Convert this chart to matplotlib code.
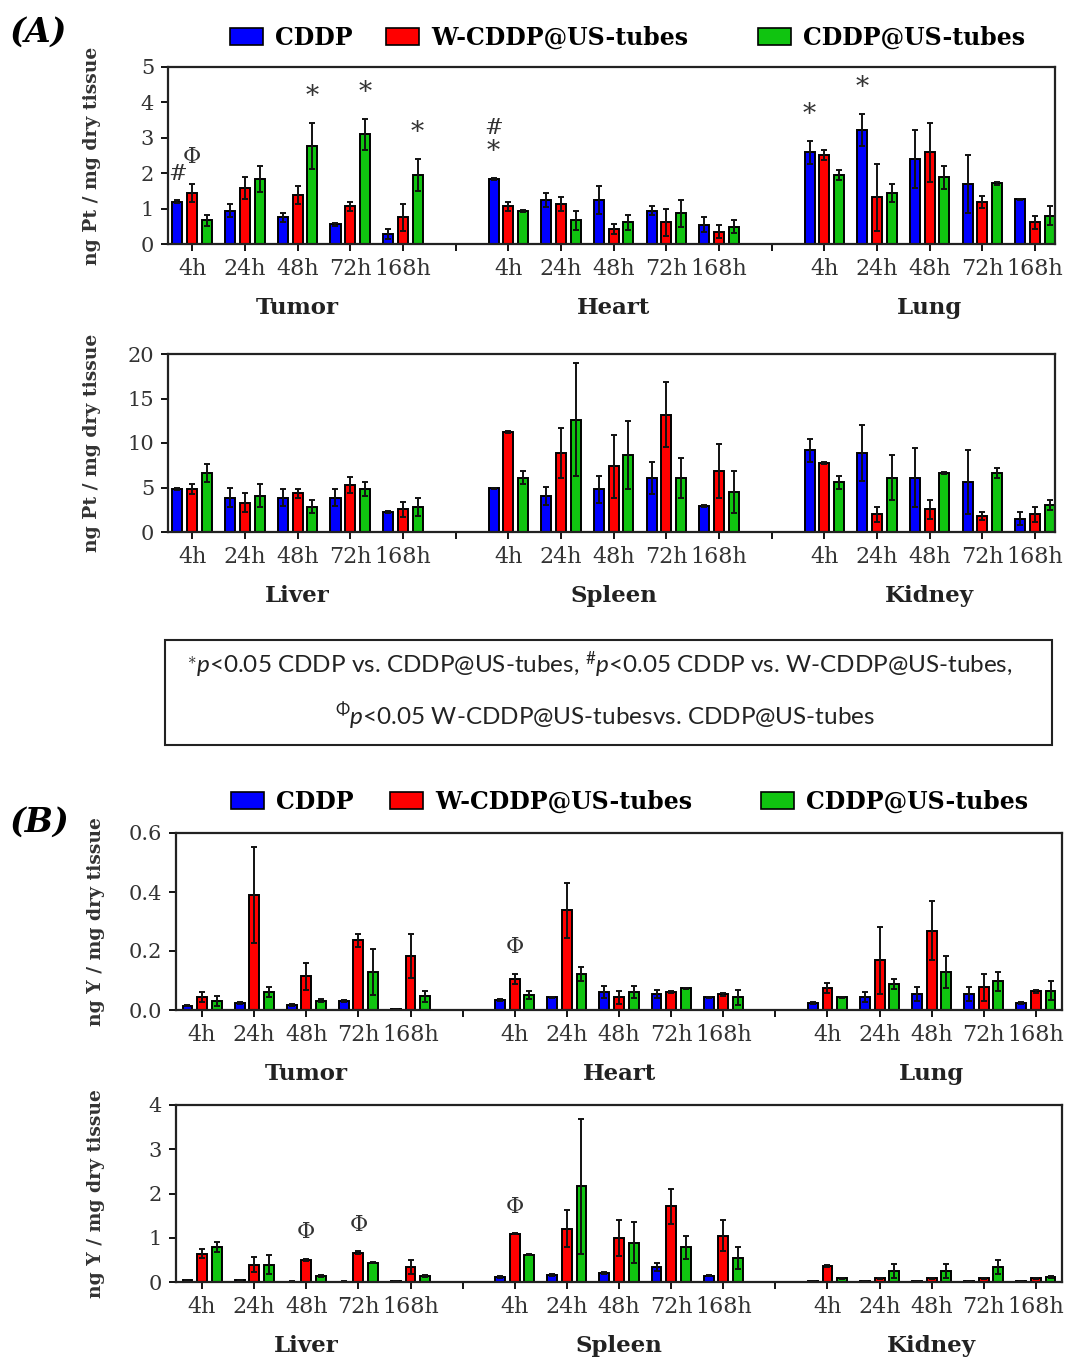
import numpy as np
import matplotlib.pyplot as plt
from matplotlib.patches import Patch, Rectangle

plt.rcParams['mathtext.fontset'] = 'custom'
plt.rcParams['mathtext.rm'] = 'Lato'
plt.rcParams['mathtext.it'] = 'Lato:italic'

# Labels
times = ["4h", "24h", "48h", "72h", "168h"]
series = ["CDDP", "W-CDDP@US-tubes", "CDDP@US-tubes"]
organs_top = ["Tumor", "Heart", "Lung"]
organs_bot = ["Liver", "Spleen", "Kidney"]
colors = ["#0000ff", "#ff0000", "#10c410"]

# (A) Pt, tumor / heart / lung, 5 time points each
a1_cddp = [1.20, 0.94, 0.75, 0.56, 0.28, 1.84, 1.24, 1.24, 0.94, 0.55, 2.59, 3.23, 2.40, 1.70, 1.26]
a1_cddp_err = [0.03, 0.19, 0.12, 0.04, 0.15, 0.03, 0.20, 0.39, 0.12, 0.20, 0.33, 0.45, 0.83, 0.82, 0.02]
a1_w = [1.44, 1.57, 1.38, 1.06, 0.75, 1.06, 1.12, 0.42, 0.61, 0.35, 2.52, 1.32, 2.59, 1.19, 0.61]
a1_w_err = [0.26, 0.31, 0.25, 0.13, 0.38, 0.13, 0.20, 0.14, 0.39, 0.19, 0.14, 0.94, 0.84, 0.17, 0.19]
a1_us = [0.67, 1.84, 2.78, 3.10, 1.95, 0.92, 0.67, 0.61, 0.87, 0.49, 1.95, 1.44, 1.88, 1.71, 0.80]
a1_us_err = [0.15, 0.37, 0.65, 0.44, 0.46, 0.03, 0.27, 0.21, 0.38, 0.19, 0.14, 0.26, 0.33, 0.03, 0.26]

# (A) Pt, liver / spleen / kidney
a2_cddp = [4.79, 3.85, 3.85, 3.85, 2.26, 4.90, 4.08, 4.79, 6.11, 2.94, 9.17, 8.87, 6.11, 5.58, 1.51]
a2_cddp_err = [0.10, 1.05, 0.98, 0.98, 0.10, 0.10, 1.00, 1.55, 1.81, 0.10, 1.28, 3.10, 3.28, 3.58, 0.75]
a2_w = [4.79, 3.28, 4.34, 5.28, 2.53, 11.25, 8.87, 7.36, 13.20, 6.87, 7.74, 2.00, 2.53, 1.81, 2.00]
a2_w_err = [0.57, 1.06, 0.49, 0.87, 0.79, 0.15, 2.83, 3.58, 3.60, 3.00, 0.10, 0.83, 1.05, 0.45, 0.83]
a2_us = [6.60, 4.08, 2.83, 4.79, 2.83, 6.11, 12.64, 8.64, 6.11, 4.53, 5.58, 6.11, 6.60, 6.60, 3.02]
a2_us_err = [1.00, 1.28, 0.75, 0.79, 1.02, 0.76, 6.40, 3.81, 2.26, 2.34, 0.76, 2.53, 0.10, 0.57, 0.56]

# (B) Y, tumor / heart / lung
b1_cddp = [0.014, 0.023, 0.018, 0.031, 0.003, 0.034, 0.043, 0.061, 0.054, 0.043, 0.023, 0.043, 0.054, 0.054, 0.023]
b1_cddp_err = [0.002, 0.003, 0.003, 0.003, 0.001, 0.004, 0.001, 0.022, 0.015, 0.002, 0.003, 0.017, 0.023, 0.023, 0.003]
b1_w = [0.043, 0.391, 0.114, 0.237, 0.183, 0.105, 0.338, 0.043, 0.061, 0.054, 0.074, 0.168, 0.269, 0.077, 0.063]
b1_w_err = [0.017, 0.163, 0.046, 0.022, 0.076, 0.017, 0.093, 0.023, 0.005, 0.005, 0.017, 0.115, 0.100, 0.045, 0.005]
b1_us = [0.029, 0.061, 0.031, 0.129, 0.046, 0.051, 0.122, 0.061, 0.074, 0.043, 0.043, 0.089, 0.129, 0.097, 0.066]
b1_us_err = [0.017, 0.016, 0.005, 0.079, 0.020, 0.015, 0.023, 0.022, 0.002, 0.025, 0.002, 0.017, 0.054, 0.032, 0.033]

# (B) Y, liver / spleen / kidney
b2_cddp = [0.04, 0.04, 0.01, 0.01, 0.02, 0.11, 0.15, 0.20, 0.34, 0.14, 0.02, 0.02, 0.02, 0.02, 0.02]
b2_cddp_err = [0.005, 0.005, 0.002, 0.002, 0.003, 0.02, 0.02, 0.02, 0.10, 0.01, 0.003, 0.003, 0.003, 0.003, 0.003]
b2_w = [0.64, 0.39, 0.50, 0.66, 0.34, 1.09, 1.20, 1.00, 1.71, 1.05, 0.36, 0.08, 0.08, 0.08, 0.08]
b2_w_err = [0.10, 0.17, 0.03, 0.03, 0.15, 0.01, 0.42, 0.41, 0.40, 0.36, 0.03, 0.01, 0.01, 0.01, 0.01]
b2_us = [0.79, 0.39, 0.14, 0.44, 0.14, 0.62, 2.16, 0.89, 0.79, 0.54, 0.08, 0.24, 0.24, 0.34, 0.11]
b2_us_err = [0.11, 0.21, 0.02, 0.02, 0.02, 0.02, 1.52, 0.46, 0.26, 0.25, 0.01, 0.16, 0.16, 0.15, 0.02]

# significance marks: (organ, time, series, symbol, stack level)
a1_marks = [(0, 0, 0, "#", 0), (0, 0, 1, "Φ", 0), (0, 2, 2, "*", 0), (0, 3, 2, "*", 0),
            (0, 4, 2, "*", 0), (1, 0, 0, "*", 0), (1, 0, 0, "#", 1), (2, 0, 0, "*", 0),
            (2, 1, 0, "*", 0)]
b1_marks = [(1, 0, 1, "Φ", 0)]
b2_marks = [(0, 2, 1, "Φ", 0), (0, 3, 1, "Φ", 0), (1, 0, 1, "Φ", 0)]

W, H = 1071, 1357
fig = plt.figure(figsize=(W / 100, H / 100), dpi=100)

serif = "DejaVu Serif"


def px_axes(left, right, top, bottom):
    return fig.add_axes([left / W, 1 - bottom / H, (right - left) / W, (bottom - top) / H])


def draw_panel(ax, vals, errs, organs, ymax, yticks, ytl, ylabel, marks, xlim, labx):
    x = np.array([g * 6 + t for g in range(3) for t in range(5)], dtype=float)
    for k in range(3):
        ax.bar(x + (k - 1) * 0.28, vals[k], 0.19, color=colors[k], edgecolor="black",
               linewidth=1.4, yerr=errs[k], zorder=2,
               error_kw=dict(ecolor="#111111", elinewidth=1.4, capsize=2.5, capthick=1.4))
    for g, t, k, sym, lev in marks:
        i = g * 5 + t
        y = vals[k][i] + errs[k][i] + 0.15 * ymax + lev * 0.13 * ymax
        fs = 19 if sym == "*" else 16
        ax.text(g * 6 + t + (k - 1) * 0.28, y, sym, ha="center", va="center",
                fontsize=fs, family=serif, color="#333333")
    ax.set_xlim(*xlim)
    ax.set_ylim(0, ymax)
    ax.set_xticks(range(17))
    ax.set_xticklabels((times + [""]) * 2 + times)
    ax.set_yticks(yticks)
    ax.set_yticklabels(ytl)
    ax.tick_params(direction="out", length=5, width=1.3, pad=5)
    ax.tick_params(axis="x", labelsize=16)
    ax.tick_params(axis="y", labelsize=15)
    for lab in ax.get_xticklabels() + ax.get_yticklabels():
        lab.set_family(serif)
        lab.set_color("#333333")
    for s in ax.spines.values():
        s.set_linewidth(1.6)
        s.set_color("#222222")
    for g, name in enumerate(organs):
        ax.text(g * 6 + 2, -0.36, name, transform=ax.get_xaxis_transform(),
                ha="center", va="center", fontsize=16.5, fontweight="bold", family=serif,
                color="#222222")
    ax.set_ylabel(ylabel, fontsize=13.5, fontweight="bold", family=serif, color="#333333")
    ax.yaxis.set_label_coords(labx, 0.5)


ax1 = px_axes(168, 1055, 67, 244)
draw_panel(ax1, [a1_cddp, a1_w, a1_us], [a1_cddp_err, a1_w_err, a1_us_err], organs_top,
           5, range(6), [str(v) for v in range(6)], "ng Pt / mg dry tissue", a1_marks,
           (-0.46, 16.38), -0.075)

ax2 = px_axes(168, 1055, 354, 532)
draw_panel(ax2, [a2_cddp, a2_w, a2_us], [a2_cddp_err, a2_w_err, a2_us_err], organs_bot,
           20, range(0, 21, 5), [str(v) for v in range(0, 21, 5)], "ng Pt / mg dry tissue", [],
           (-0.46, 16.38), -0.075)

ax3 = px_axes(176, 1062, 833, 1010)
draw_panel(ax3, [b1_cddp, b1_w, b1_us], [b1_cddp_err, b1_w_err, b1_us_err], organs_top,
           0.6, [0, 0.2, 0.4, 0.6], ["0.0", "0.2", "0.4", "0.6"], "ng Y / mg dry tissue",
           b1_marks, (-0.5, 16.5), -0.08)

ax4 = px_axes(176, 1062, 1105, 1282)
draw_panel(ax4, [b2_cddp, b2_w, b2_us], [b2_cddp_err, b2_w_err, b2_us_err], organs_bot,
           4, range(5), [str(v) for v in range(5)], "ng Y / mg dry tissue", b2_marks,
           (-0.5, 16.5), -0.08)

# legends
for ly, lxs in [(38, [230, 386, 758]), (802, [231, 390, 761])]:
    for k in range(3):
        fig.legend([Patch(facecolor=colors[k], edgecolor="black", linewidth=1.2)], [series[k]],
                   loc="center left", bbox_to_anchor=(lxs[k] / W, 1 - ly / H), frameon=False,
                   prop=dict(family=serif, weight="bold", size=17), handlelength=1.4,
                   handleheight=0.75, handletextpad=0.5, borderaxespad=0, borderpad=0)

fig.text(10 / W, 1 - 32 / H, "(A)", fontsize=24, fontweight="bold", style="italic",
         family=serif, va="center", ha="left")
fig.text(10 / W, 1 - 822 / H, "(B)", fontsize=24, fontweight="bold", style="italic",
         family=serif, va="center", ha="left")

# significance note box
fig.patches.append(Rectangle((165 / W, 1 - 745 / H), (1052 - 165) / W, 105 / H,
                             transform=fig.transFigure, fill=False, edgecolor="#222222",
                             linewidth=1.5))
fig.text(600 / W, 1 - 665 / H,
         r"$^{\ast}p$<0.05 CDDP vs. CDDP@US-tubes, $^{\#}p$<0.05 CDDP vs. W-CDDP@US-tubes,",
         family="Lato", fontsize=17.5, ha="center", va="center", color="#222222")
fig.text(605 / W, 1 - 716 / H, r"$^{\Phi}p$<0.05 W-CDDP@US-tubesvs. CDDP@US-tubes",
         family="Lato", fontsize=17.5, ha="center", va="center", color="#222222")

fig.savefig("out.png", dpi=100)
